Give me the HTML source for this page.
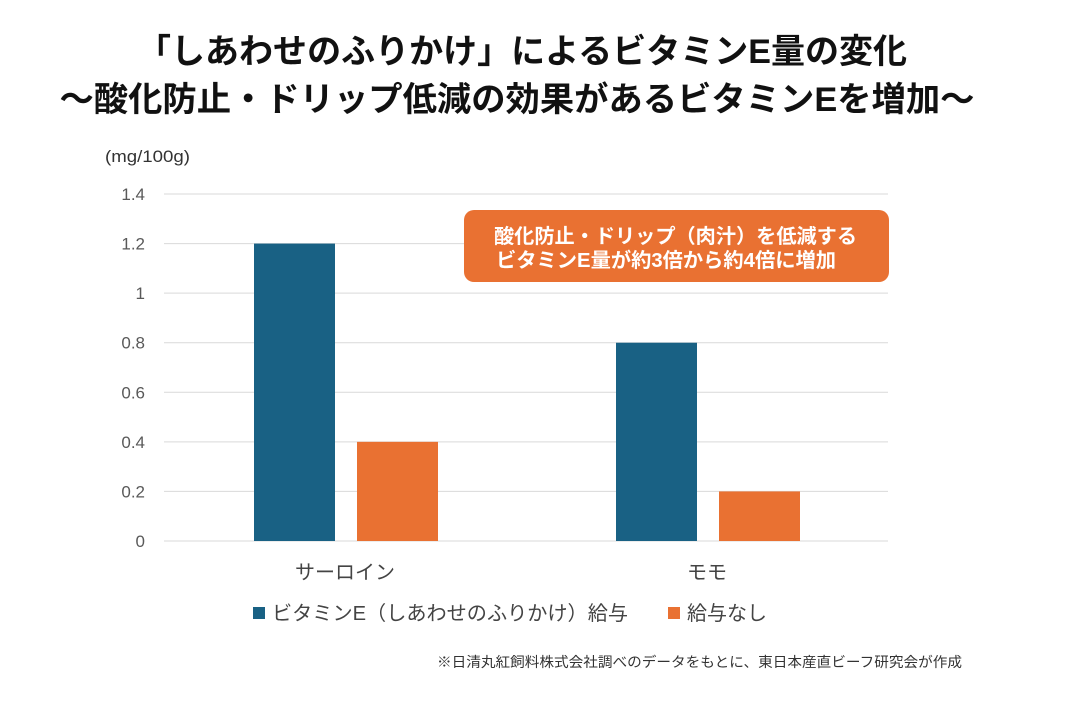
<!DOCTYPE html>
<html><head><meta charset="utf-8"><style>
body{margin:0;background:#fff;width:1087px;height:713px;overflow:hidden;font-family:"Liberation Sans","Noto Sans CJK JP",sans-serif;}
svg text{font-family:"Liberation Sans","Noto Sans CJK JP",sans-serif;}
</style></head><body>
<svg width="1087" height="713">
<text x="522" y="63" text-anchor="middle" font-size="34" font-weight="bold" fill="#111" textLength="770" lengthAdjust="spacingAndGlyphs">「しあわせのふりかけ」によるビタミンE量の変化</text>
<text x="517" y="111" text-anchor="middle" font-size="34" font-weight="bold" fill="#111" textLength="915" lengthAdjust="spacingAndGlyphs">～酸化防止・ドリップ低減の効果があるビタミンEを増加～</text>
<text x="105" y="162" font-size="17" fill="#333" textLength="85" lengthAdjust="spacingAndGlyphs">(mg/100g)</text>
<g id="grid"></g><g id="bars"></g>
<rect x="464" y="210" width="425" height="72" rx="10" fill="#e97132"/>
<text x="494" y="243" font-size="20" font-weight="bold" fill="#fff" textLength="363" lengthAdjust="spacingAndGlyphs">酸化防止・ドリップ（肉汁）を低減する</text>
<text x="496" y="267" font-size="20" font-weight="bold" fill="#fff" textLength="340" lengthAdjust="spacingAndGlyphs">ビタミンE量が約3倍から約4倍に増加</text>
<rect x="253" y="607" width="12" height="12" fill="#196184"/>
<text x="272" y="620" font-size="20" fill="#444" textLength="356" lengthAdjust="spacingAndGlyphs">ビタミンE（しあわせのふりかけ）給与</text>
<rect x="668" y="607" width="12" height="12" fill="#e97132"/>
<text x="687" y="620" font-size="20" fill="#444">給与なし</text>
<text x="962" y="667" text-anchor="end" font-size="14" fill="#333" textLength="525" lengthAdjust="spacingAndGlyphs">※日清丸紅飼料株式会社調べのデータをもとに、東日本産直ビーフ研究会が作成</text>
</svg>
<script>
const categories=["サーロイン","モモ"];
const seriesVitE=[1.2,0.8];
const seriesNone=[0.4,0.2];
const ticks=[0,0.2,0.4,0.6,0.8,1,1.2,1.4];
const tickLabels=["0","0.2","0.4","0.6","0.8","1","1.2","1.4"];
const NS="http://www.w3.org/2000/svg";
const x0=164,x1=888,y0=541,yTop=194,vmax=1.4;
const y=v=>y0-(y0-yTop)*v/vmax;
const bw=(x1-x0)/categories.length;
const grid=document.getElementById('grid'),bars=document.getElementById('bars');
function mk(tag,a,parent){const e=document.createElementNS(NS,tag);for(const k in a)e.setAttribute(k,a[k]);parent.appendChild(e);return e;}
ticks.forEach((t,i)=>{
 const l=mk('line',{x1:x0,x2:x1,y1:y(t),y2:y(t),stroke:'#d9d9d9','stroke-width':1},grid);
 
 
 const tx=mk('text',{x:145,y:y(t)+6,'text-anchor':'end','font-size':17,fill:'#595959'},grid);
 tx.textContent=tickLabels[i];
 
 
});
categories.forEach((c,i)=>{
 const cx=x0+bw*(i+0.5);
 const b1=mk('rect',{x:cx-91,y:y(seriesVitE[i]),width:81,height:y0-y(seriesVitE[i]),fill:'#196184'},bars);
 
 
 const b2=mk('rect',{x:cx+12,y:y(seriesNone[i]),width:81,height:y0-y(seriesNone[i]),fill:'#e97132'},bars);
 
 
 const t=mk('text',{x:cx,y:579,'text-anchor':'middle','font-size':20,fill:'#444'},bars);
 t.textContent=c;
 
 
});
</script>
</body></html>
